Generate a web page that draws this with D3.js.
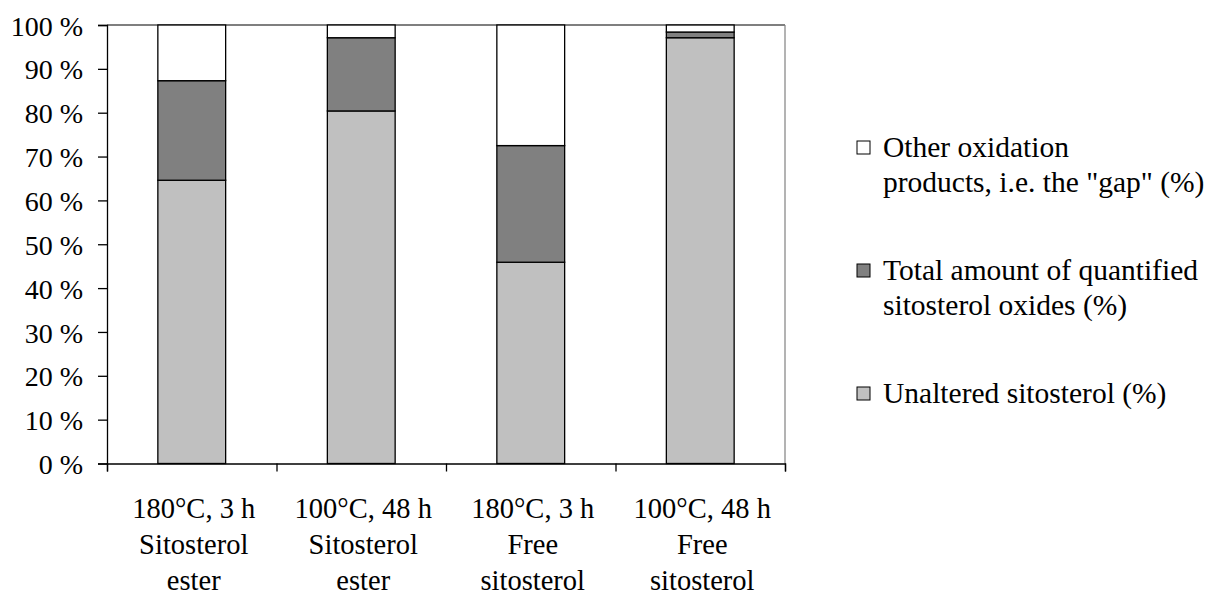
<html lang='en'>
<head>
   <meta charset='UTF-8'>
   <script src='https://d3js.org/d3.v7.min.js'></script>
   <style>
      body{
         margin: 0;
         padding: 0;
         background-color: white;
      }
      text{
         font-family: 'Liberation Serif', 'Times New Roman', serif;
         font-size: 28px;
         fill: black;
      }
      .cat{ font-size: 28.5px; }
      .leg{ font-size: 29.5px; }
   </style>
</head>
<body>
   <div id='tavola'></div>

   <script>
   // categories, one label line per entry
   var categories = [
      ['180\u00B0C, 3 h', 'Sitosterol', 'ester'],
      ['100\u00B0C, 48 h', 'Sitosterol', 'ester'],
      ['180\u00B0C, 3 h', 'Free', 'sitosterol'],
      ['100\u00B0C, 48 h', 'Free', 'sitosterol']
   ];
   var unaltered = [64.6, 80.4, 45.9, 97.1];
   var oxides    = [22.7, 16.7, 26.6, 1.3];
   var gap       = [12.7, 2.9, 27.5, 1.6];
   var yTicks = [0, 10, 20, 30, 40, 50, 60, 70, 80, 90, 100];
   var seriesNames = ['unaltered', 'oxides', 'gap'];
   var legendLabels = [
      ['Other oxidation', 'products, i.e. the "gap" (%)'],
      ['Total amount of quantified', 'sitosterol oxides (%)'],
      ['Unaltered sitosterol (%)']
   ];

   var fills = {unaltered: '#c0c0c0', oxides: '#808080', gap: '#ffffff'};

   var W = 1206, H = 595;
   var plotL = 107, plotR = 785, plotT = 25, plotB = 463.5;

   var svg = d3.select('#tavola').append('svg')
      .attr('width', W)
      .attr('height', H);

   var rows = categories.map(function(c, i){
      return {idx: i, unaltered: unaltered[i], oxides: oxides[i], gap: gap[i]};
   });
   var stacked = d3.stack().keys(seriesNames)(rows);

   var x = d3.scaleBand()
      .domain(d3.range(categories.length))
      .range([plotL, plotR])
      .paddingInner(0.6)
      .paddingOuter(0.3);
   var xEdge = d3.scaleLinear().domain([0, categories.length]).range([plotL, plotR]);
   var y = d3.scaleLinear().domain([0, 100]).range([plotB, plotT]);

   // plot frame (top black, right gray)
   svg.append('line')
      .attr('x1', plotL).attr('x2', plotR)
      .attr('y1', y(100)).attr('y2', y(100))
      .attr('stroke', 'black').attr('stroke-width', 1.2);
   svg.append('line')
      .attr('x1', plotR).attr('x2', plotR)
      .attr('y1', y(100)).attr('y2', y(0))
      .attr('stroke', '#808080').attr('stroke-width', 1.2);

   // bars
   svg.append('g').selectAll('g')
      .data(stacked)
      .enter().append('g')
      .attr('fill', function(d){ return fills[d.key]; })
      .selectAll('rect')
      .data(function(d){ return d; })
      .enter().append('rect')
      .attr('x', function(d){ return x(d.data.idx); })
      .attr('width', x.bandwidth())
      .attr('y', function(d){ return y(d[1]); })
      .attr('height', function(d){ return y(d[0]) - y(d[1]); })
      .attr('stroke', 'black')
      .attr('stroke-width', 1.3);

   // y axis
   var yAxis = svg.append('g')
      .attr('transform', 'translate(' + plotL + ',0)')
      .call(d3.axisLeft(y).tickValues(yTicks).tickSize(9).tickPadding(15)
         .tickFormat(function(d){ return d + ' %'; }));
   yAxis.selectAll('path, line').attr('stroke', 'black').attr('stroke-width', 1.3);
   yAxis.selectAll('text').attr('dy', '0.36em');

   // x axis with ticks at category boundaries
   var xAxis = svg.append('g')
      .attr('transform', 'translate(0,' + plotB + ')')
      .call(d3.axisBottom(xEdge).tickValues(d3.range(categories.length + 1))
         .tickSize(8).tickFormat(''));
   xAxis.selectAll('path, line').attr('stroke', 'black').attr('stroke-width', 1.3);
   svg.selectAll('g[font-family]').attr('font-family', null).attr('font-size', null);

   // category labels
   var lineStep = 35.8;
   categories.forEach(function(lines, i){
      var cx = x(i) + x.bandwidth() / 2 + 2;
      var t = svg.append('text')
         .attr('class', 'cat')
         .attr('text-anchor', 'middle')
         .attr('x', cx)
         .attr('y', 518);
      lines.forEach(function(s, k){
         t.append('tspan')
            .attr('x', cx)
            .attr('y', 518 + k * lineStep)
            .text(s);
      });
   });

   // legend, top entry is the top series
   var legendY = [157, 280, 403];
   var legendKeys = ['gap', 'oxides', 'unaltered'];
   legendKeys.forEach(function(key, i){
      var g = svg.append('g');
      g.append('rect')
         .attr('x', 857).attr('y', legendY[i] - 16)
         .attr('width', 13).attr('height', 13)
         .attr('fill', fills[key])
         .attr('stroke', 'black').attr('stroke-width', 1);
      var t = g.append('text').attr('class', 'leg').attr('x', 883).attr('y', legendY[i]);
      legendLabels[i].forEach(function(s, k){
         t.append('tspan')
            .attr('x', 883)
            .attr('y', legendY[i] + k * 34.5)
            .text(s);
      });
   });
   </script>
</body>
</html>
